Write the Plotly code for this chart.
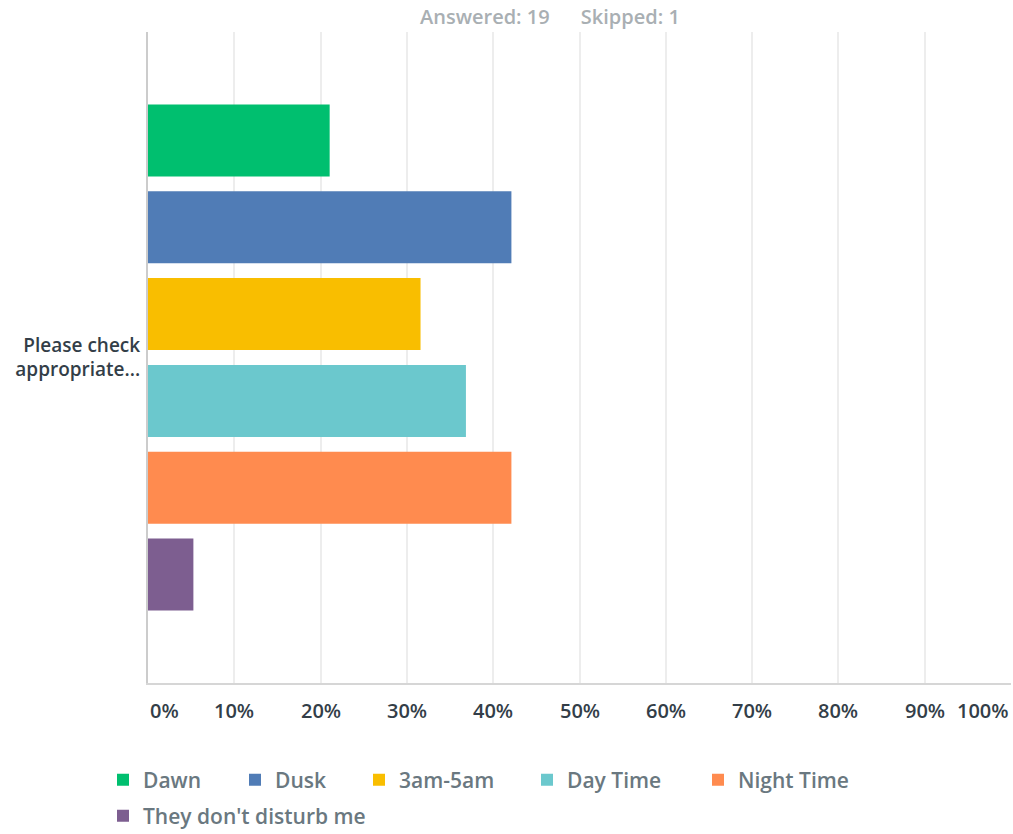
import plotly.graph_objects as go

categories = ["Please check<br>appropriate..."]
series_names = ["Dawn", "Dusk", "3am-5am", "Day Time", "Night Time", "They don't disturb me"]
series_values = [21.05, 42.11, 31.58, 36.84, 42.11, 5.26]
series_colors = ["#00BF6F", "#507CB6", "#F9BE00", "#6BC8CD", "#FF8B4F", "#7D5E90"]
x_ticks = [0, 10, 20, 30, 40, 50, 60, 70, 80, 90, 100]
x_tick_labels = [f"{t}%" for t in x_ticks]
header_text = "Answered: 19&nbsp;&nbsp;&nbsp;&nbsp;&nbsp;&nbsp;Skipped: 1"

FONT = "Open Sans"
W, H = 1013, 834

# legend item placement (pixel origin of each legend entry, in the page)
legend_px = [(103, 780), (235, 780), (359, 780), (527, 780), (698, 780), (103, 816)]
legend_ids = ["legend"] + [f"legend{i}" for i in range(2, len(series_names) + 1)]

fig = go.Figure()
for name, val, col, lid in zip(series_names, series_values, series_colors, legend_ids):
    fig.add_trace(go.Bar(
        y=categories, x=[val], name=name, orientation="h",
        marker=dict(color=col, line=dict(width=0)),
        hoverinfo="x+name", legend=lid,
    ))

annotations = []
for t, lab in zip(x_ticks, x_tick_labels):
    anchor = "left" if t == x_ticks[0] else ("right" if t == x_ticks[-1] else "center")
    annotations.append(dict(
        x=t, y=0, xref="x", yref="paper", text=lab, showarrow=False,
        xanchor=anchor, yanchor="top", yshift=-12,
        font=dict(family=FONT, size=20, color="#333E48", weight=600),
    ))
annotations.append(dict(
    x=0.466, y=1, xref="paper", yref="paper", text=header_text, showarrow=False,
    xanchor="center", yanchor="bottom", yshift=0,
    font=dict(family=FONT, size=20, color="#A9AFB3", weight=600),
))

legend_layouts = {}
for lid, (px, py) in zip(legend_ids, legend_px):
    legend_layouts[lid] = dict(
        orientation="h", xref="container", yref="container",
        x=px / W, y=1 - py / H, xanchor="left", yanchor="middle",
        font=dict(family=FONT, size=21, color="#6A7880", weight=600),
        bgcolor="rgba(0,0,0,0)", borderwidth=0,
    )

fig.update_layout(
    width=W, height=H,
    margin=dict(l=148, r=2, t=32, b=151),
    paper_bgcolor="white", plot_bgcolor="white",
    barmode="group", bargap=0.2, bargroupgap=0.17,
    font=dict(family=FONT),
    xaxis=dict(
        range=[0, 100], tickvals=x_ticks, showticklabels=False,
        showgrid=True, gridcolor="#EDEDED", gridwidth=2,
        showline=True, linecolor="#D6D6D6", linewidth=2,
        zeroline=False, fixedrange=True,
    ),
    yaxis=dict(
        autorange="reversed", showgrid=False,
        showline=True, linecolor="#CCCCCC", linewidth=2,
        tickfont=dict(family=FONT, size=19, color="#333E48", weight=600),
        ticks="", ticklabelstandoff=2,
    ),
    annotations=annotations,
    showlegend=True,
    **legend_layouts,
)

fig.write_html("out.html")
